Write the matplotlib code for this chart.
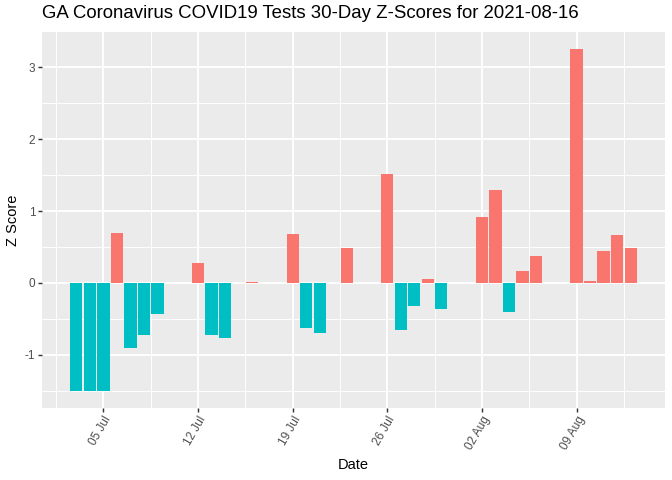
import matplotlib
matplotlib.use("Agg")
import matplotlib.pyplot as plt
import matplotlib.dates as mdates
import numpy as np
import pandas as pd

plt.rcParams['font.family'] = ['Liberation Sans', 'DejaVu Sans']

title = "GA Coronavirus COVID19 Tests 30-Day Z-Scores for 2021-08-16"
dates = ["2021-07-03", "2021-07-04", "2021-07-05", "2021-07-06", "2021-07-07",
         "2021-07-08", "2021-07-09", "2021-07-12", "2021-07-13", "2021-07-14",
         "2021-07-16", "2021-07-19", "2021-07-20", "2021-07-21", "2021-07-23",
         "2021-07-26", "2021-07-27", "2021-07-28", "2021-07-29", "2021-07-30",
         "2021-08-02", "2021-08-03", "2021-08-04", "2021-08-05", "2021-08-06",
         "2021-08-09", "2021-08-10", "2021-08-11", "2021-08-12", "2021-08-13"]
zscores = [-1.50, -1.50, -1.50, 0.70, -0.90,
           -0.73, -0.43, 0.28, -0.72, -0.77,
           0.02, 0.685, -0.62, -0.70, 0.49,
           1.515, -0.65, -0.315, 0.06, -0.357,
           0.917, 1.29, -0.40, 0.17, 0.38,
           3.25, 0.03, 0.45, 0.66, 0.48]
tick_dates = ["2021-07-05", "2021-07-12", "2021-07-19", "2021-07-26", "2021-08-02", "2021-08-09"]
tick_labels = ["05 Jul", "12 Jul", "19 Jul", "26 Jul", "02 Aug", "09 Aug"]
y_ticks = [-1, 0, 1, 2, 3]

POS = "#F8766D"
NEG = "#00BFC4"

d = mdates.date2num(pd.to_datetime(dates).to_pydatetime())
z = np.array(zscores)
colors = [POS if v > 0 else NEG for v in z]

fig = plt.figure(figsize=(7, 5), dpi=96)
ax = fig.add_axes([42/672, 1 - 408/480, (665-42)/672, (408-32)/480])
ax.set_facecolor("#EBEBEB")

# limits with ggplot-like 5% expansion
xmin, xmax = d.min() - 0.45, d.max() + 0.45
xr = xmax - xmin
ax.set_xlim(xmin - 0.05*xr, xmax + 0.05*xr)
ymin, ymax = min(z.min(), 0), max(z.max(), 0)
yr = ymax - ymin
ax.set_ylim(ymin - 0.05*yr, ymax + 0.05*yr)

tk = mdates.date2num(pd.to_datetime(tick_dates).to_pydatetime())
# minor grid
for m in np.concatenate([[tk[0] - 3.5], (tk[:-1] + tk[1:]) / 2, [tk[-1] + 3.5]]):
    ax.axvline(m, color="white", lw=0.71, zorder=0.5)
for m in np.arange(-1.5, 3.6, 1.0):
    ax.axhline(m, color="white", lw=0.71, zorder=0.5)
for t in tk:
    ax.axvline(t, color="white", lw=1.42, zorder=0.6)
for t in y_ticks:
    ax.axhline(t, color="white", lw=1.42, zorder=0.6)

ax.bar(d, z, width=0.9, color=colors, zorder=2)

ax.set_xticks(tk)
ax.set_xticklabels(tick_labels, rotation=60, ha="right", va="top",
                   rotation_mode="anchor", fontsize=8.8, color="#4D4D4D")
ax.set_yticks(y_ticks)
ax.set_yticklabels([str(t) for t in y_ticks], fontsize=8.8, color="#4D4D4D")
ax.tick_params(axis="both", length=2.75, width=1.07, color="#333333", pad=2.2)
for s in ax.spines.values():
    s.set_visible(False)

ax.set_xlabel("Date", fontsize=11, color="black", labelpad=4)
ax.set_ylabel("Z Score", fontsize=11, color="black", labelpad=4)
fig.text(42/672, 1 - 14/480, title, fontsize=14, ha="left", va="center", color="black")

fig.savefig("out.png", dpi=96)
